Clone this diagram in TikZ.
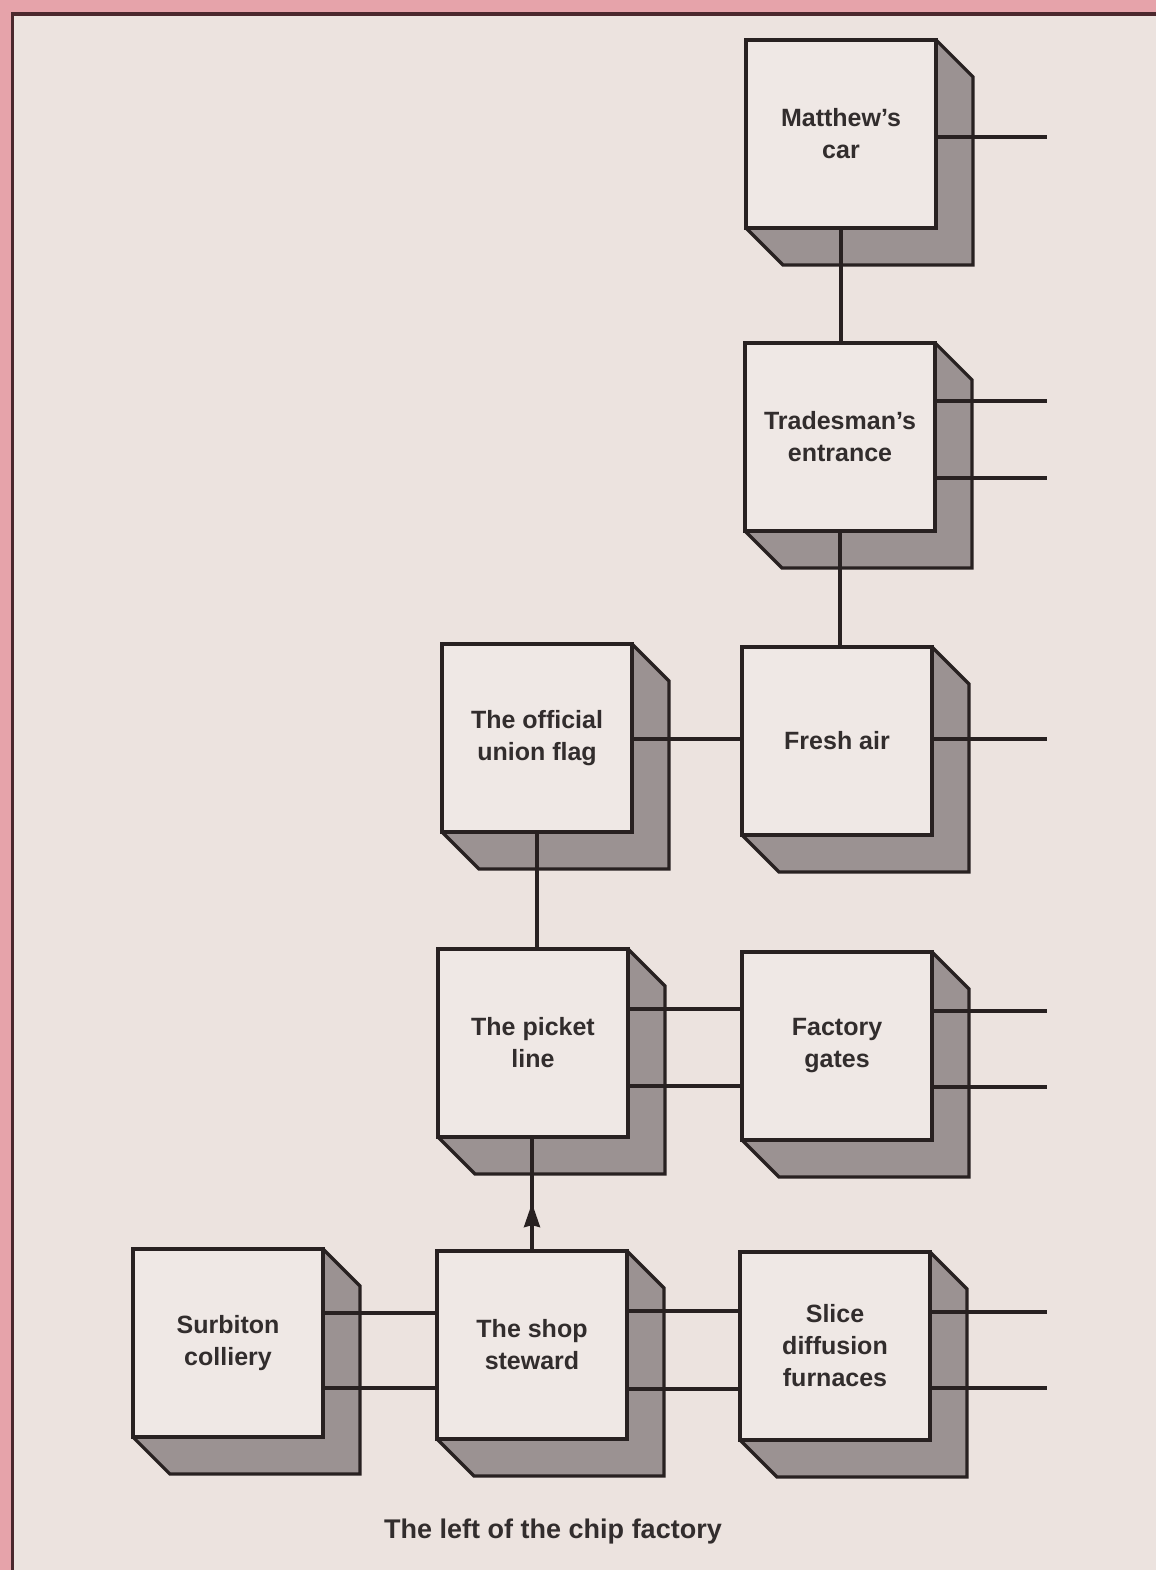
\documentclass[tikz,border=0pt]{standalone}
\usepackage{fontspec}
\setmainfont{Liberation Sans}
\usetikzlibrary{calc,decorations.markings,arrows.meta}
\definecolor{paper}{RGB}{236,227,223}
\definecolor{face}{RGB}{239,232,229}
\definecolor{shade}{RGB}{155,146,146}
\definecolor{ink}{RGB}{40,33,33}
\definecolor{txt}{RGB}{50,45,45}
\definecolor{pinkband}{RGB}{230,163,170}
\definecolor{frameline}{RGB}{75,40,45}
\pgfdeclarelayer{back}
\pgfdeclarelayer{shadelayer}
\pgfsetlayers{back,shadelayer,main}
\begin{document}
\begin{tikzpicture}[x=1pt,y=-1pt,
  cubebox/.style={draw=ink, line width=3.2pt, fill=face, minimum width=190pt,
    minimum height=188pt, inner sep=0pt, outer sep=0pt, align=center, text=txt,
    font=\fontsize{25}{32}\selectfont\bfseries},
  link/.style={draw=ink, line width=3.2pt},
  extr/.style={fill=shade, draw=ink, line width=3.2pt, line join=miter},
  midarrow/.style={decoration={markings, mark=at position #1 with {\arrow{Stealth[length=24pt,width=16pt,inset=2pt]}}}, postaction={decorate}}
]
\useasboundingbox (0,0) rectangle (1156,1570);
\begin{pgfonlayer}{back}
  \fill[paper] (0,0) rectangle (1156,1570);
  \fill[pinkband] (0,0) rectangle (1156,12);
  \fill[pinkband] (0,0) rectangle (11,1570);
  \draw[frameline, line width=3.5pt] (1156,14) -- (12.5,14) -- (12.5,1570);
\end{pgfonlayer}

\coordinate (stubx) at (1047,0);

\node[cubebox] (car) at (841,134) {Matthew’s\\car};
\node[cubebox] (trade) at (840,437) {Tradesman’s\\entrance};
\node[cubebox] (flag) at (537,738) {The official\\union flag};
\node[cubebox] (fresh) at (837,741) {Fresh air};
\node[cubebox] (picket) at (533,1043) {The picket\\line};
\node[cubebox] (gates) at (837,1046) {Factory\\gates};
\node[cubebox] (surb) at (228,1343) {Surbiton\\colliery};
\node[cubebox] (steward) at (532,1345) {The shop\\steward};
\node[cubebox] (slice) at (835,1346) {Slice\\diffusion\\furnaces};

\node[font=\fontsize{27}{31}\selectfont\bfseries, text=txt] (cap) at (553,1531) {The left of the chip factory};

\begin{pgfonlayer}{shadelayer}
\foreach \n in {car,trade,flag,fresh,picket,gates,surb,steward,slice}{
  \filldraw[extr] (\n.north west) -- (\n.north east) -- ($(\n.north east)+(37,37)$)
    -- ($(\n.south east)+(37,37)$) -- ($(\n.south west)+(37,37)$) -- (\n.south west) -- cycle;
}
\end{pgfonlayer}

% vertical links
\draw[link] (car.south) -- (car.south |- trade.north);
\draw[link] (trade.south) -- (trade.south |- fresh.north);
\draw[link] (flag.south) -- (flag.south |- picket.north);
\draw[link, midarrow=0.42] (steward.north) -- (steward.north |- picket.south);

% horizontal links
\draw[link] ($(flag.north east)+(0,95)$) coordinate (f1) -- (f1 -| fresh.west);
\draw[link] ($(picket.north east)+(0,60)$) coordinate (p1) -- (p1 -| gates.west);
\draw[link] ($(picket.north east)+(0,137)$) coordinate (p2) -- (p2 -| gates.west);
\draw[link] ($(surb.north east)+(0,64)$) coordinate (s1) -- (s1 -| steward.west);
\draw[link] ($(surb.north east)+(0,139)$) coordinate (s2) -- (s2 -| steward.west);
\draw[link] ($(steward.north east)+(0,60)$) coordinate (t1) -- (t1 -| slice.west);
\draw[link] ($(steward.north east)+(0,138)$) coordinate (t2) -- (t2 -| slice.west);

% stubs to the right
\draw[link] ($(car.north east)+(0,97)$) coordinate (c1) -- (c1 -| stubx);
\draw[link] ($(trade.north east)+(0,58)$) coordinate (r1) -- (r1 -| stubx);
\draw[link] ($(trade.north east)+(0,135)$) coordinate (r2) -- (r2 -| stubx);
\draw[link] ($(fresh.north east)+(0,92)$) coordinate (a1) -- (a1 -| stubx);
\draw[link] ($(gates.north east)+(0,59)$) coordinate (g1) -- (g1 -| stubx);
\draw[link] ($(gates.north east)+(0,135)$) coordinate (g2) -- (g2 -| stubx);
\draw[link] ($(slice.north east)+(0,60)$) coordinate (l1) -- (l1 -| stubx);
\draw[link] ($(slice.north east)+(0,136)$) coordinate (l2) -- (l2 -| stubx);
\end{tikzpicture}
\end{document}
